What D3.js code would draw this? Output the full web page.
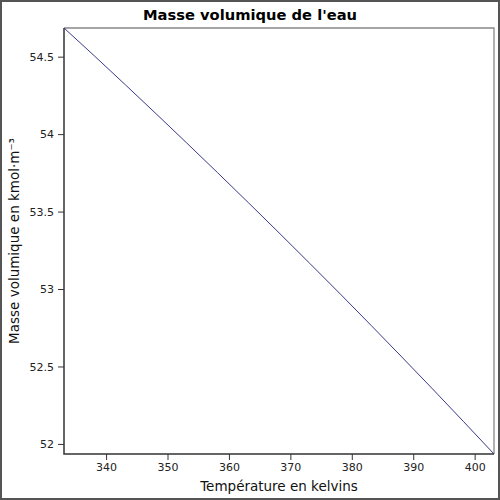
<!DOCTYPE html>
<html><head><meta charset="utf-8">
<script src="https://cdn.jsdelivr.net/npm/d3@7"></script>
<style>body{margin:0;background:#fff}svg{display:block}text{font-family:"DejaVu Sans",sans-serif}</style>
</head><body><svg id="c" width="500" height="500"></svg>
<script>
const temperatures = [333.15,338.15,343.15,348.15,353.15,358.15,363.15,368.15,373.15,378.15,383.15,388.15,393.15,398.15,403.15];
const densities = [54.685,54.503,54.318,54.131,53.942,53.751,53.558,53.363,53.166,52.967,52.765,52.561,52.355,52.146,51.935];
const xTicks = [340,350,360,370,380,390,400];
const yTicks = [52,52.5,53,53.5,54,54.5];
const title = "Masse volumique de l'eau";
const xLabel = "Température en kelvins";
const yLabel = "Masse volumique en kmol·m⁻³";

const svg = d3.select("#c");
const m = {l:64, t:28, r:494, b:454};
const x = d3.scaleLinear().domain(d3.extent(temperatures)).range([m.l, m.r]);
const y = d3.scaleLinear().domain(d3.extent(densities)).range([m.b, m.t]);

svg.append("rect").attr("x",1).attr("y",1).attr("width",498).attr("height",498)
  .attr("fill","#fff").attr("stroke","#555").attr("stroke-width",2);

svg.append("path").attr("d",`M${m.l},${m.t}H${m.r}V${m.b}`).attr("fill","none").attr("stroke","#888").attr("stroke-width",1.3);

const gx = svg.append("g").attr("transform",`translate(0,${m.b})`)
  .call(d3.axisBottom(x).tickValues(xTicks).tickSize(6).tickPadding(3).tickFormat(d3.format("d")));
const gy = svg.append("g").attr("transform",`translate(${m.l},0)`)
  .call(d3.axisLeft(y).tickValues(yTicks).tickSize(6).tickPadding(4).tickFormat(d=>String(d)));
[gx,gy].forEach(g=>{
  g.select(".domain").remove();
  g.selectAll("line").attr("stroke","#333");
  g.selectAll("text").attr("font-family","DejaVu Sans").attr("font-size",11).attr("fill","#222");
});
svg.append("path").attr("d",`M${m.l},${m.t}V${m.b}H${m.r}`).attr("fill","none").attr("stroke","#333").attr("stroke-width",1.5);

const line = d3.line().x((d,i)=>x(temperatures[i])).y(d=>y(d)).curve(d3.curveMonotoneX);
svg.append("path").datum(densities).attr("d",line).attr("fill","none").attr("stroke","#3a3a8a").attr("stroke-width",1);

svg.append("text").attr("x",250).attr("y",20).attr("text-anchor","middle")
  .attr("font-size",14.7).attr("font-weight","bold").text(title);
svg.append("text").attr("x",(m.l+m.r)/2).attr("y",491).attr("text-anchor","middle")
  .attr("font-size",13.5).attr("fill","#111").text(xLabel);
svg.append("text").attr("transform",`translate(18.5,${(m.t+m.b)/2}) rotate(-90)`).attr("text-anchor","middle")
  .attr("font-size",13.5).attr("fill","#111").text(yLabel);
</script></body></html>
